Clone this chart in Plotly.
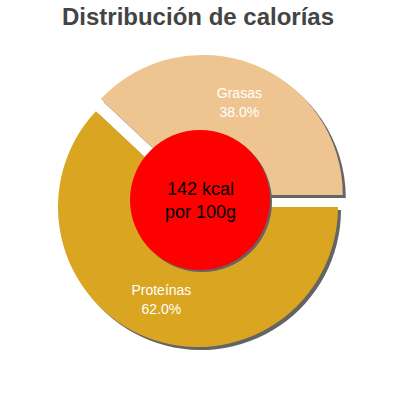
import plotly.graph_objects as go

# datos del gráfico
labels = ["Proteínas", "Grasas"]
values = [62.0, 38.0]
colors = ["#DAA520", "#EEC591"]
pulls = [0, 0.093]
center_lines = ["142 kcal", "por 100g"]
title = "Distribución de calorías"

W, H = 400, 400
FONT = "Liberation Sans, Arial, sans-serif"
SHADOW = "rgb(100,100,100)"


def px_x(v):
    return v / W


def px_y(v):
    return 1 - v / H


# caja del pie en píxeles (centro 198,207, radio 140)
half = 140 * (1 + max(pulls))
cx, cy = 198, 207
dom_x = [px_x(cx - half), px_x(cx + half)]
dom_y = [px_y(cy + half), px_y(cy - half)]
off = 3  # sombra

fig = go.Figure()

# sombra
fig.add_trace(go.Pie(
    labels=labels, values=values, pull=pulls, hole=0.42,
    sort=False, direction="clockwise", rotation=90,
    marker=dict(colors=[SHADOW, SHADOW], line=dict(width=0)),
    textinfo="none", hoverinfo="skip", showlegend=False,
    domain=dict(x=[dom_x[0] + off / W, dom_x[1] + off / W],
                y=[dom_y[0] - off / H, dom_y[1] - off / H]),
))

fig.add_trace(go.Pie(
    labels=labels, values=values, pull=pulls, hole=0.42,
    sort=False, direction="clockwise", rotation=90,
    marker=dict(colors=colors, line=dict(width=0)),
    texttemplate="%{label}<br>%{percent:.1%}",
    textposition="inside", insidetextorientation="horizontal",
    textfont=dict(color="white", size=14, family=FONT),
    showlegend=False,
    domain=dict(x=dom_x, y=dom_y),
))

# círculo central con sombra
r = 70
ccx, ccy = 200, 200
fig.add_shape(type="circle", xref="paper", yref="paper",
              x0=px_x(ccx - r + 2), x1=px_x(ccx + r + 2),
              y0=px_y(ccy + r + 2), y1=px_y(ccy - r + 2),
              fillcolor=SHADOW, line=dict(width=0))
fig.add_shape(type="circle", xref="paper", yref="paper",
              x0=px_x(ccx - r), x1=px_x(ccx + r),
              y0=px_y(ccy + r), y1=px_y(ccy - r),
              fillcolor="#FF0000", line=dict(width=0))

fig.add_annotation(x=px_x(ccx), y=px_y(ccy), xref="paper", yref="paper",
                   text="<br>".join(center_lines), showarrow=False,
                   font=dict(size=18, color="black", family=FONT))

fig.update_layout(
    width=W, height=H,
    margin=dict(l=0, r=0, t=0, b=0),
    paper_bgcolor="white", plot_bgcolor="white",
    title=dict(text="<b>" + title + "</b>", x=px_x(198), y=px_y(17),
               xanchor="center", yanchor="middle",
               font=dict(size=24, color="#444444", family=FONT)),
)

# sin margen del body, la figura ocupa la ventana 400x400
fig.write_html("out.html", config={"displayModeBar": False},
               post_script="document.body.style.margin='0';")
